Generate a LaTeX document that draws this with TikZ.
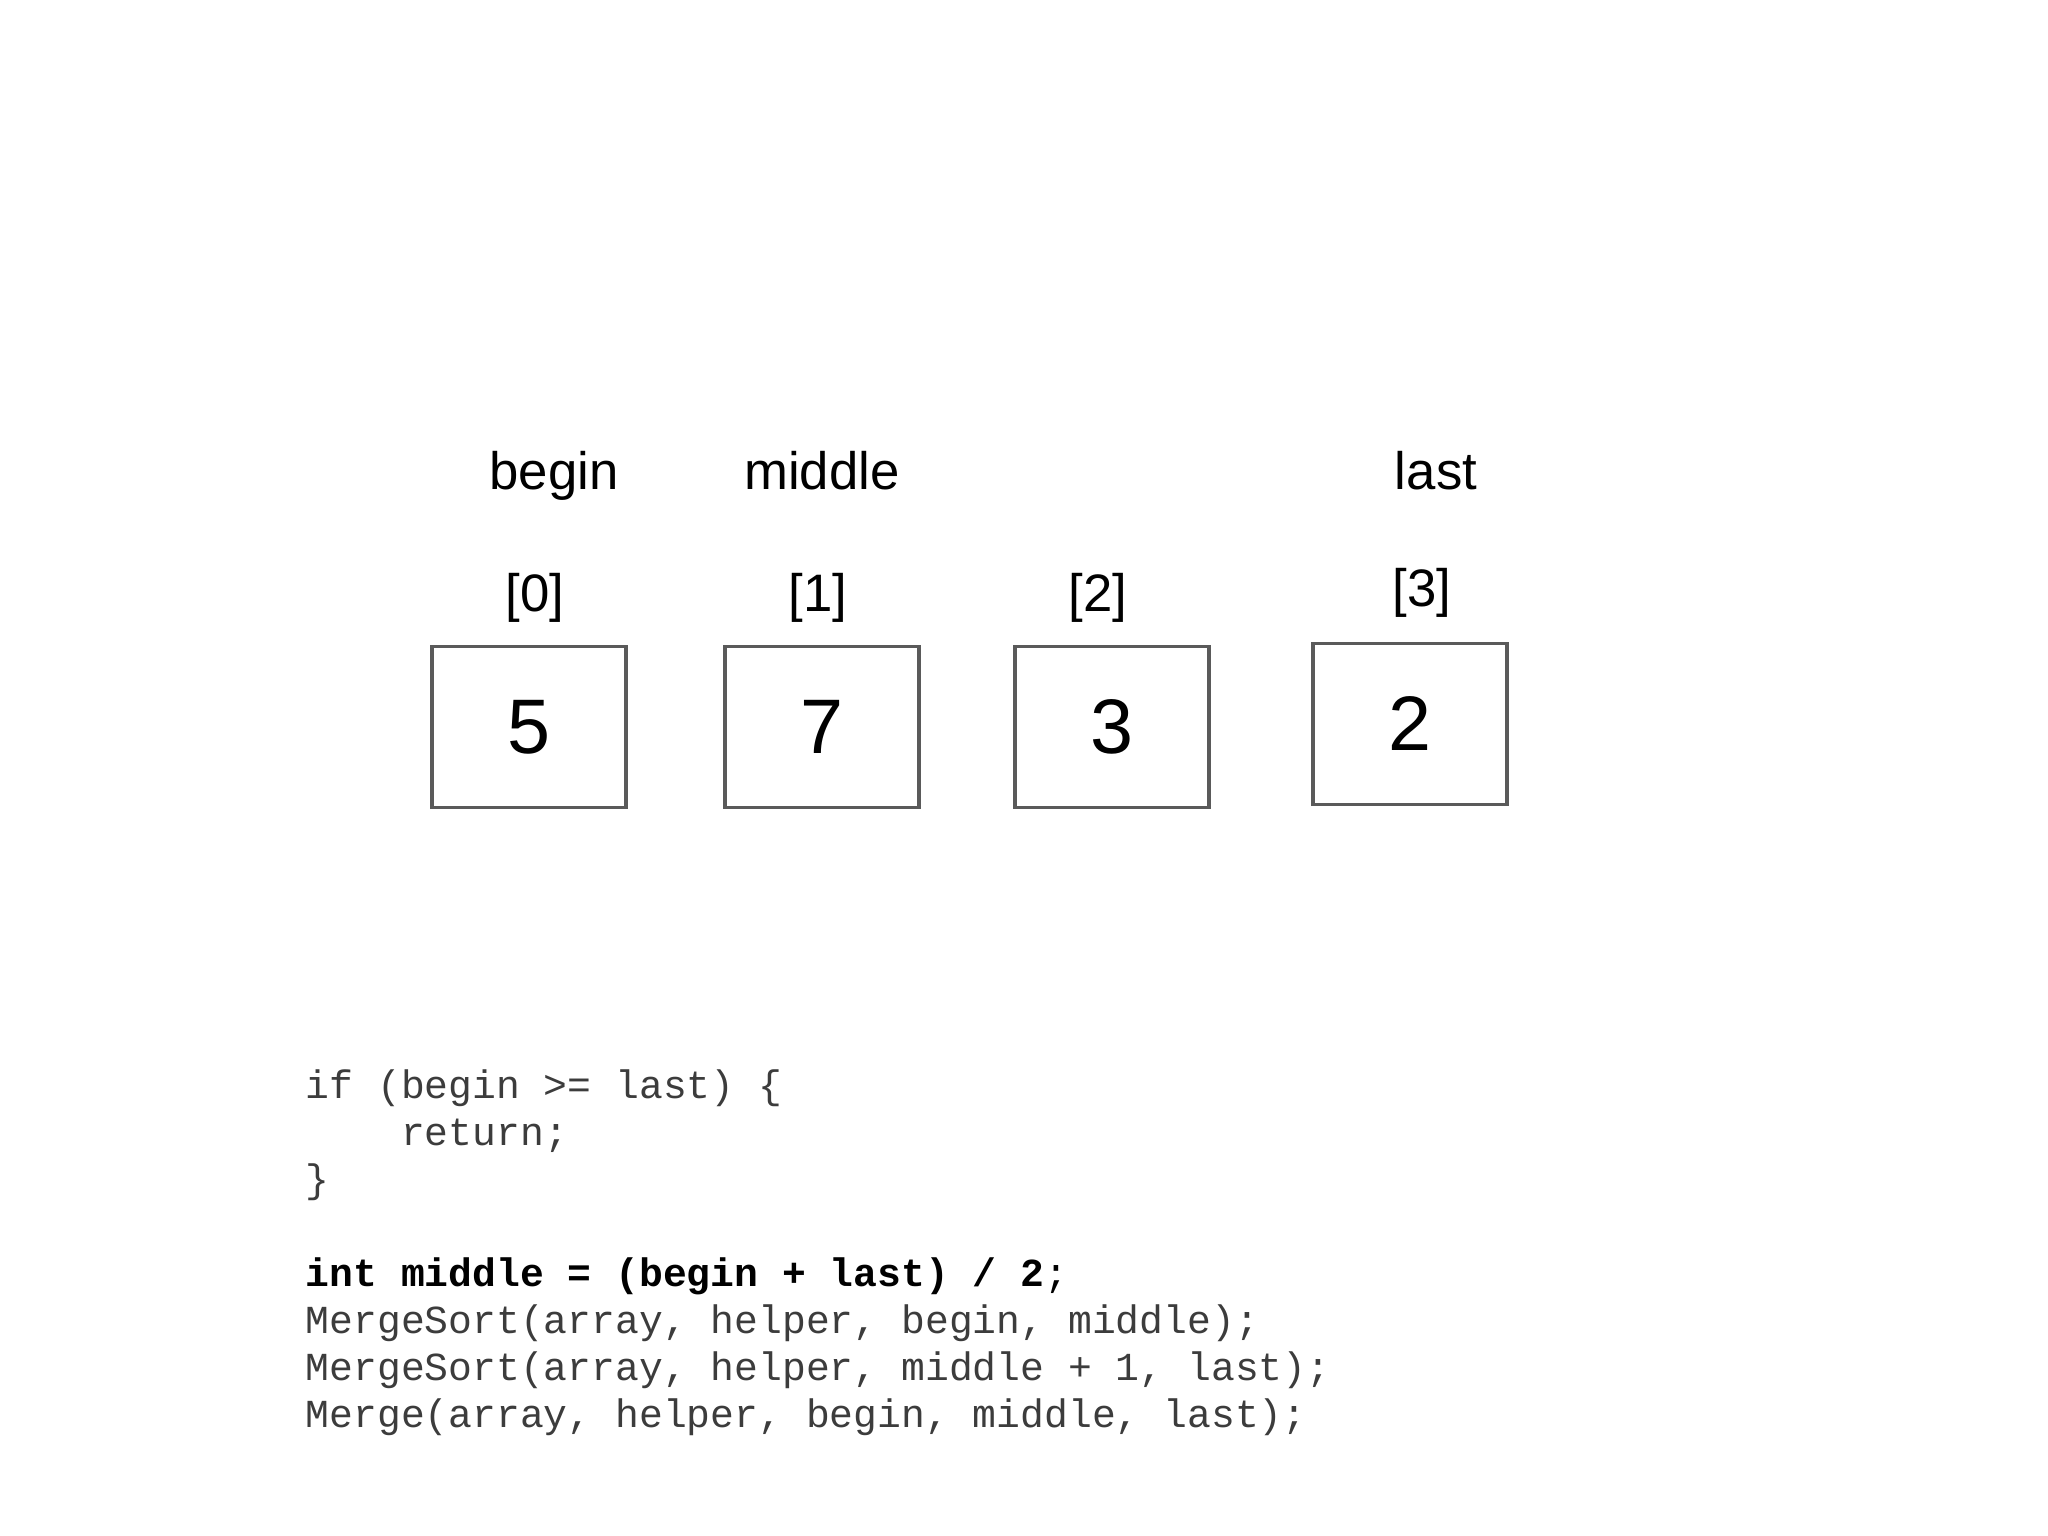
\documentclass[tikz,border=0pt]{standalone}
\usepackage{fontspec}
\setmainfont{Liberation Sans}
\setmonofont{Liberation Mono}
\usepackage{tikz}
\usetikzlibrary{positioning}

\definecolor{boxgray}{RGB}{90,90,90}
\definecolor{codegray}{RGB}{60,60,60}

\tikzset{
    cell/.style={draw=boxgray, line width=1.1pt, minimum width=1.94cm, minimum height=1.61cm, inner sep=0pt, font=\fontsize{22}{26}\selectfont},
    idx/.style={anchor=base, inner sep=0pt, font=\fontsize{15}{18}\selectfont},
    ptr/.style={anchor=base, inner sep=0pt, font=\fontsize{15}{18}\selectfont},
    code/.style={anchor=base west, inner sep=0pt, text=codegray, font=\ttfamily\fontsize{11.3}{13.4}\selectfont}
}

\begin{document}
\begin{tikzpicture}
        \useasboundingbox (0,0) rectangle (20.48,15.36);

        % array cells
        \node[cell] (c0) at (5.29, 8.09) {5};
        \node[cell] (c1) at (8.22, 8.09) {7};
        \node[cell] (c2) at (11.12, 8.09) {3};
        \node[cell] (c3) at (14.10, 8.12) {2};

        % indices
        \node[idx] (i0) at (5.35, 9.24) {[0]};
        \node[idx] (i1) at (8.18, 9.24) {[1]};
        \node[idx] (i2) at (10.98, 9.24) {[2]};
        \node[idx] (i3) at (14.22, 9.29) {[3]};

        % pointers
        \node[ptr] (pbegin) at (5.54, 10.46) {begin};
        \node[ptr] (pmiddle) at (8.22, 10.46) {middle};
        \node[ptr] (plast) at (14.36, 10.46) {last};

        % code
        \node[code] (l1) at (3.05, 4.37) {if (begin >= last) \{};
        \node[code] (l2) at (3.05, 3.90) {\phantom{xxxx}return;};
        \node[code] (l3) at (3.05, 3.43) {\}};
        \node[code, text=black] (l4) at (3.05, 2.49) {\textbf{int middle = (begin + last) / 2};};
        \node[code] (l5) at (3.05, 2.02) {MergeSort(array, helper, begin, middle);};
        \node[code] (l6) at (3.05, 1.55) {MergeSort(array, helper, middle + 1, last);};
        \node[code] (l7) at (3.05, 1.08) {Merge(array, helper, begin, middle, last);};
    \end{tikzpicture}
\end{document}
